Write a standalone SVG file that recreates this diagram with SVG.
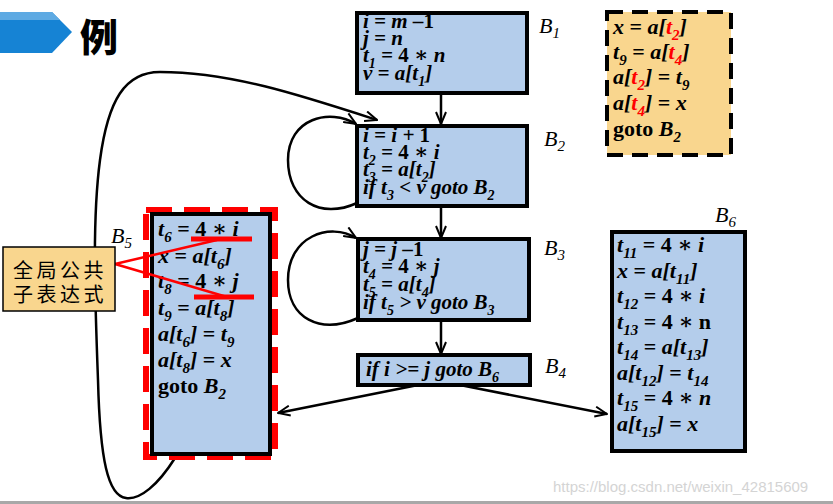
<svg xmlns="http://www.w3.org/2000/svg" width="833" height="504" viewBox="0 0 833 504">
<style>
.c{font-family:"Liberation Serif","DejaVu Serif",serif;font-size:21px;font-weight:bold;font-style:italic;fill:#000}
.c2{font-family:"Liberation Serif","DejaVu Serif",serif;font-size:22px;font-weight:bold;font-style:italic;fill:#000}
.u{font-style:normal}
.s{font-size:14px}
.c2 .s{font-size:15px}
.r{fill:#ff0000}
.lbl{font-family:"Liberation Serif",serif;font-size:22px;font-style:italic;fill:#000}
.ls{font-size:15px}
.box{fill:#b4cdeb;stroke:#000;stroke-width:4}
.wire{fill:none;stroke:#000;stroke-width:2.5}
.cjk{font-family:"Noto Sans CJK SC",sans-serif;font-size:20px;fill:#000;letter-spacing:3.5px}
</style>
<defs>
<marker id="ar" viewBox="0 0 14 12" refX="13" refY="6" markerWidth="14" markerHeight="12" markerUnits="userSpaceOnUse" orient="auto">
<path d="M1,1 L13,6 L1,11" fill="none" stroke="#000" stroke-width="2"/>
</marker>
</defs>
<rect width="833" height="504" fill="#fff"/>
<g id="title">
<polygon points="0,12 52,12 72,32 52,53 0,53" fill="#1683d4"/>
<polygon points="0,12 52,12 60,20 0,20" fill="#5eaae3"/>
<text x="80" y="51" style="font-family:'Noto Sans CJK SC',sans-serif;font-size:38px;font-weight:900">例</text>
</g>
<g id="connectors">
<path class="wire" d="M441,93 L441,124" marker-end="url(#ar)"/>
<path class="wire" d="M441,207 L441,238" marker-end="url(#ar)"/>
<path class="wire" d="M441,320 L441,354" marker-end="url(#ar)"/>
<path class="wire" d="M357,203 C320,220 288,200 288,160 C288,118 330,108 356,124" marker-end="url(#ar)"/>
<path class="wire" d="M358,318 C320,335 288,318 288,280 C288,236 330,222 356,238" marker-end="url(#ar)"/>
<path class="wire" d="M175,458 C158,485 140,500 126,498 C108,496 100,460 98,380 C95,300 92,220 100,160 C108,100 125,72 160,72 C230,72 300,95 377,120" marker-end="url(#ar)"/>
<path class="wire" d="M418,385 L278,413" marker-end="url(#ar)"/>
<path class="wire" d="M460,385 L607,414" marker-end="url(#ar)"/>
</g>
<g id="B1">
<rect class="box" x="357" y="13" width="170" height="80"/>
<text class="c" x="363" y="28">i = m –<tspan class="u">1</tspan></text>
<text class="c" x="363" y="45">j = n</text>
<text class="c" x="363" y="62">t<tspan class="s" dy="6">1</tspan><tspan dy="-6"> = </tspan><tspan class="u">4 ∗ </tspan>n</text>
<text class="c" x="363" y="80">v = a[t<tspan class="s" dy="6">1</tspan><tspan dy="-6">]</tspan></text>
<text class="lbl" x="539" y="33">B<tspan class="ls" dy="5">1</tspan></text>
</g>
<g id="B2">
<rect class="box" x="357" y="126" width="170" height="80"/>
<text class="c" x="363" y="142">i = i + <tspan class="u">1</tspan></text>
<text class="c" x="363" y="159">t<tspan class="s" dy="6">2</tspan><tspan dy="-6"> = </tspan><tspan class="u">4 ∗ </tspan>i</text>
<text class="c" x="363" y="176">t<tspan class="s" dy="6">3</tspan><tspan dy="-6"> = a[t</tspan><tspan class="s" dy="6">2</tspan><tspan dy="-6">]</tspan></text>
<text class="c" x="363" y="194">if t<tspan class="s" dy="6">3</tspan><tspan dy="-6"> &lt; v goto B</tspan><tspan class="s" dy="6">2</tspan></text>
<text class="lbl" x="544" y="146">B<tspan class="ls" dy="5">2</tspan></text>
</g>
<g id="B3">
<rect class="box" x="358" y="239" width="171" height="81"/>
<text class="c" x="363" y="256">j = j –<tspan class="u">1</tspan></text>
<text class="c" x="363" y="273">t<tspan class="s" dy="6">4</tspan><tspan dy="-6"> = </tspan><tspan class="u">4 ∗ </tspan>j</text>
<text class="c" x="363" y="291">t<tspan class="s" dy="6">5</tspan><tspan dy="-6"> = a[t</tspan><tspan class="s" dy="6">4</tspan><tspan dy="-6">]</tspan></text>
<text class="c" x="363" y="309">if t<tspan class="s" dy="6">5</tspan><tspan dy="-6"> &gt; v goto B</tspan><tspan class="s" dy="6">3</tspan></text>
<text class="lbl" x="544" y="255">B<tspan class="ls" dy="5">3</tspan></text>
</g>
<g id="B4">
<rect class="box" x="358" y="355" width="172" height="30"/>
<text class="c" x="366" y="376">if i &gt;= j goto B<tspan class="s" dy="6">6</tspan></text>
<text class="lbl" x="545" y="373">B<tspan class="ls" dy="5">4</tspan></text>
</g>
<g id="swap">
<rect x="607" y="12" width="124" height="143" fill="#f9d68e" stroke="#000" stroke-width="4" stroke-dasharray="16 9"/>
<text class="c2" x="613" y="34">x <tspan class="u">=</tspan> a[<tspan class="r">t</tspan><tspan class="s r" dy="6">2</tspan><tspan dy="-6">]</tspan></text>
<text class="c2" x="613" y="59">t<tspan class="s" dy="6">9</tspan><tspan dy="-6" class="u"> = </tspan>a[<tspan class="r">t</tspan><tspan class="s r" dy="6">4</tspan><tspan dy="-6">]</tspan></text>
<text class="c2" x="613" y="84">a[<tspan class="r">t</tspan><tspan class="s r" dy="6">2</tspan><tspan dy="-6">] </tspan><tspan class="u">= </tspan>t<tspan class="s" dy="6">9</tspan></text>
<text class="c2" x="613" y="110">a[<tspan class="r">t</tspan><tspan class="s r" dy="6">4</tspan><tspan dy="-6">] </tspan><tspan class="u">= </tspan>x</text>
<text class="c2" x="613" y="136"><tspan class="u">goto </tspan>B<tspan class="s" dy="6">2</tspan></text>
</g>
<g id="B5">
<rect x="146" y="210" width="129" height="247" fill="none" stroke="#ff0000" stroke-width="6" stroke-dasharray="26 12"/>
<rect class="box" x="152" y="214" width="118" height="240"/>
<text class="c2" x="158" y="236">t<tspan class="s" dy="6">6</tspan><tspan dy="-6" class="u"> = 4 ∗ </tspan>i</text>
<text class="c2" x="158" y="263">x <tspan class="u">=</tspan> a[t<tspan class="s" dy="6">6</tspan><tspan dy="-6">]</tspan></text>
<text class="c2" x="158" y="288">t<tspan class="s" dy="6">8</tspan><tspan dy="-6" class="u"> = 4 ∗ </tspan>j</text>
<text class="c2" x="158" y="315">t<tspan class="s" dy="6">9</tspan><tspan dy="-6" class="u"> = </tspan>a[t<tspan class="s" dy="6">8</tspan><tspan dy="-6">]</tspan></text>
<text class="c2" x="158" y="341">a[t<tspan class="s" dy="6">6</tspan><tspan dy="-6">] </tspan><tspan class="u">= </tspan>t<tspan class="s" dy="6">9</tspan></text>
<text class="c2" x="158" y="367">a[t<tspan class="s" dy="6">8</tspan><tspan dy="-6">] </tspan><tspan class="u">= </tspan>x</text>
<text class="c2" x="158" y="393"><tspan class="u">goto </tspan>B<tspan class="s" dy="6">2</tspan></text>
<line x1="191" y1="239" x2="252" y2="239" stroke="#ff0000" stroke-width="5"/>
<line x1="194" y1="297" x2="254" y2="297" stroke="#ff0000" stroke-width="5"/>
<text class="lbl" x="111" y="243">B<tspan class="ls" dy="5">5</tspan></text>
</g>
<g id="B6">
<rect class="box" x="612" y="232" width="133" height="219"/>
<text class="c2" x="617" y="252">t<tspan class="s" dy="6">11</tspan><tspan dy="-6" class="u"> = 4 ∗ </tspan>i</text>
<text class="c2" x="617" y="278">x <tspan class="u">=</tspan> a[t<tspan class="s" dy="6">11</tspan><tspan dy="-6">]</tspan></text>
<text class="c2" x="617" y="303">t<tspan class="s" dy="6">12</tspan><tspan dy="-6" class="u"> = 4 ∗ </tspan>i</text>
<text class="c2" x="617" y="329">t<tspan class="s" dy="6">13</tspan><tspan dy="-6" class="u"> = 4 ∗ n</tspan></text>
<text class="c2" x="617" y="354">t<tspan class="s" dy="6">14</tspan><tspan dy="-6" class="u"> = </tspan>a[t<tspan class="s" dy="6">13</tspan><tspan dy="-6">]</tspan></text>
<text class="c2" x="617" y="380">a[t<tspan class="s" dy="6">12</tspan><tspan dy="-6">] </tspan><tspan class="u">= </tspan>t<tspan class="s" dy="6">14</tspan></text>
<text class="c2" x="617" y="405">t<tspan class="s" dy="6">15</tspan><tspan dy="-6" class="u"> = 4 ∗ </tspan>n</text>
<text class="c2" x="617" y="431">a[t<tspan class="s" dy="6">15</tspan><tspan dy="-6">] </tspan><tspan class="u">= </tspan>x</text>
<text class="lbl" x="715" y="222">B<tspan class="ls" dy="5">6</tspan></text>
</g>
<g id="callout">
<line x1="115" y1="264" x2="217" y2="240" stroke="#ff0000" stroke-width="2.5"/>
<line x1="115" y1="264" x2="227" y2="297" stroke="#ff0000" stroke-width="2.5"/>
<rect x="3" y="247" width="112" height="64" fill="#f9d68e" stroke="#000" stroke-width="1.5"/>
<text class="cjk" x="13" y="278">全局公共</text>
<text class="cjk" x="13" y="302">子表达式</text>
</g>
<text x="553" y="492" style="font-family:'Liberation Sans',sans-serif;font-size:15px;fill:#d4d4d4">https://blog.csdn.net/weixin_42815609</text>
<rect x="0" y="501" width="833" height="3" fill="#a8a8a8"/>
</svg>
